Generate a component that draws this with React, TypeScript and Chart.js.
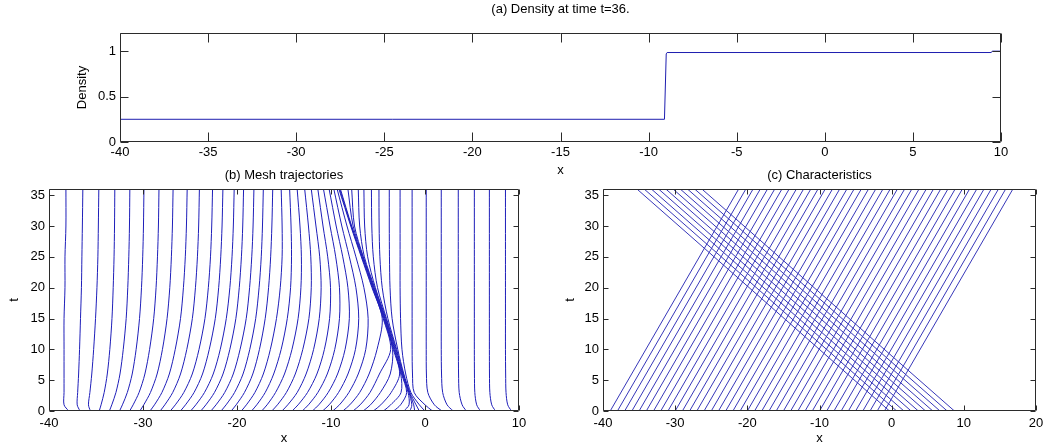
import React, { useEffect, useRef } from 'react';
import { Chart, registerables } from 'chart.js';
Chart.register(...registerables);

const FONT = '"Liberation Sans", Arial, Helvetica, sans-serif';
const W = 1060;
const H = 446;

// ---------- (a) density ----------
const densityX = [-40, -9.1, -9.0, -8.95, 9.45, 9.5, 10];
const densityY = [0.25, 0.25, 0.97, 0.985, 0.985, 1.0, 1.0];
const xTicksA = [-40, -35, -30, -25, -20, -15, -10, -5, 0, 5, 10];
const yTicksA = [0, 0.5, 1];

// ---------- (b) mesh trajectories (x of each mesh node at the times in trajT) ----------
const trajT = [0, 1, 3, 6, 10, 15, 20, 25, 30, 36];
const trajX: number[][] = [
  [-37.9, -38.4, -38.4, -38.4, -38.4, -38.4, -38.3, -38.3, -38.2, -38.2],
  [-36.7, -37.0, -36.95, -36.85, -36.75, -36.65, -36.55, -36.5, -36.45, -36.4],
  [-35.6, -35.8, -35.65, -35.45, -35.25, -35.05, -34.9, -34.8, -34.75, -34.7],
  [-34.66, -34.46, -34.13, -33.8, -33.53, -33.3, -33.17, -33.08, -33.03, -33.0],
  [-33.58, -33.32, -32.88, -32.45, -32.1, -31.79, -31.62, -31.51, -31.44, -31.4],
  [-32.5, -32.19, -31.67, -31.15, -30.73, -30.37, -30.16, -30.03, -29.95, -29.9],
  [-31.42, -31.05, -30.42, -29.8, -29.3, -28.86, -28.61, -28.46, -28.36, -28.3],
  [-30.34, -29.92, -29.21, -28.5, -27.93, -27.44, -27.15, -26.98, -26.87, -26.8],
  [-29.26, -28.78, -27.99, -27.2, -26.57, -26.01, -25.7, -25.5, -25.38, -25.3],
  [-28.18, -27.68, -26.84, -26.01, -25.34, -24.75, -24.42, -24.21, -24.08, -24.0],
  [-27.1, -26.56, -25.66, -24.76, -24.04, -23.41, -23.05, -22.82, -22.69, -22.6],
  [-26.02, -25.48, -24.57, -23.67, -22.95, -22.31, -21.95, -21.73, -21.59, -21.5],
  [-24.94, -24.38, -23.46, -22.53, -21.78, -21.14, -20.76, -20.53, -20.39, -20.3],
  [-23.86, -23.31, -22.4, -21.49, -20.76, -20.12, -19.76, -19.53, -19.39, -19.3],
  [-22.78, -22.23, -21.31, -20.4, -19.67, -19.02, -18.66, -18.43, -18.29, -18.2],
  [-21.7, -21.16, -20.26, -19.36, -18.64, -18.01, -17.65, -17.42, -17.29, -17.2],
  [-20.62, -20.09, -19.21, -18.32, -17.61, -17.0, -16.64, -16.42, -16.29, -16.2],
  [-19.54, -19.0, -18.1, -17.2, -16.45, -15.8, -15.4, -15.2, -15.2, -15.3],
  [-18.46, -17.9, -17.0, -16.1, -15.3, -14.65, -14.3, -14.2, -14.25, -14.4],
  [-17.38, -16.8, -15.9, -14.95, -14.15, -13.5, -13.2, -13.15, -13.3, -13.6],
  [-16.3, -15.7, -14.75, -13.8, -13.0, -12.35, -12.1, -12.15, -12.4, -12.8],
  [-15.22, -14.6, -13.6, -12.65, -11.85, -11.25, -11.05, -11.2, -11.6, -12.1],
  [-14.14, -13.5, -12.5, -11.5, -10.7, -10.15, -10.05, -10.35, -10.85, -11.4],
  [-13.06, -12.4, -11.4, -10.4, -9.6, -9.1, -9.1, -9.5, -10.1, -10.8],
  [-11.98, -11.3, -10.3, -9.3, -8.5, -8.05, -8.2, -8.75, -9.45, -10.2],
  [-10.9, -10.2, -9.2, -8.2, -7.4, -7.05, -7.35, -8.05, -8.85, -9.7],
  [-9.82, -9.1, -8.1, -7.1, -6.3, -6.05, -6.5, -7.35, -8.3, -9.35],
  [-8.74, -8.0, -6.95, -5.95, -5.1, -4.55, -5.64, -6.78, -7.9, -9.16],
  [-7.66, -6.9, -5.85, -4.85, -3.65, -4.45, -5.58, -6.72, -7.85, -9.08],
  [-6.58, -5.8, -4.75, -3.7, -3.45, -4.39, -5.53, -6.67, -7.8, -9.0],
  [-5.5, -4.7, -3.6, -2.7, -3.37, -4.33, -5.48, -6.6, -7.65, -8.2],
  [-4.42, -3.65, -2.55, -2.58, -3.3, -4.28, -5.42, -6.56, -7.5, -7.8],
  [-3.34, -2.6, -1.95, -2.5, -3.23, -4.23, -5.35, -6.45, -6.95, -7.1],
  [-2.26, -1.7, -1.8, -2.43, -3.16, -4.16, -5.28, -6.1, -6.42, -6.5],
  [-1.6, -1.4, -1.72, -2.37, -3.08, -4.1, -5.05, -5.5, -5.66, -5.7],
  [-1.1, -1.2, -1.66, -2.31, -3.02, -3.95, -4.55, -4.8, -4.88, -4.9],
  [-0.6, -0.95, -1.6, -2.25, -2.9, -3.5, -3.72, -3.78, -3.8, -3.8],
  [0.0, -0.6, -1.5, -2.05, -2.45, -2.6, -2.65, -2.65, -2.65, -2.65],
  [0.8, 0.0, -1.15, -1.33, -1.37, -1.37, -1.37, -1.37, -1.37, -1.37],
  [1.8, 1.0, 0.3, 0.15, 0.13, 0.13, 0.13, 0.13, 0.13, 0.13],
  [3.0, 2.35, 1.88, 1.76, 1.73, 1.73, 1.73, 1.73, 1.73, 1.73],
  [4.4, 3.95, 3.64, 3.57, 3.55, 3.54, 3.54, 3.54, 3.54, 3.54],
  [5.9, 5.5, 5.3, 5.26, 5.25, 5.25, 5.25, 5.25, 5.25, 5.25],
  [7.5, 7.1, 6.9, 6.86, 6.85, 6.85, 6.85, 6.85, 6.85, 6.85],
  [9.2, 8.8, 8.62, 8.58, 8.56, 8.56, 8.56, 8.56, 8.56, 8.56],
];
const xTicksB = [-40, -30, -20, -10, 0, 10];
const yTicksT = [0, 5, 10, 15, 20, 25, 30, 35];

// ---------- (c) characteristics ----------
const charT0 = 0;
const charT1 = 36;
const rightStart = [-39, -38, -37, -36, -35, -34, -33, -32, -31, -30, -29, -28, -27, -26, -25, -24, -23, -22, -21, -20, -19, -18, -17, -16, -15, -14, -13, -12, -11, -10, -9, -8, -7, -6, -5, -4, -3, -2, -1];
const rightEnd = [-21.2, -20.2, -19.2, -18.2, -17.2, -16.2, -15.2, -14.2, -13.2, -12.2, -11.2, -10.2, -9.2, -8.2, -7.2, -6.2, -5.2, -4.2, -3.2, -2.2, -1.2, -0.2, 0.8, 1.8, 2.8, 3.8, 4.8, 5.8, 6.8, 7.8, 8.8, 9.8, 10.8, 11.8, 12.8, 13.8, 14.8, 15.8, 16.8];
const leftStart = [-0.3, 0.7, 1.7, 2.7, 3.7, 4.7, 5.7, 6.7, 7.7, 8.7];
const leftEnd = [-35.3, -34.3, -33.3, -32.3, -31.3, -30.3, -29.3, -28.3, -27.3, -26.3];
const xTicksC = [-40, -30, -20, -10, 0, 10, 20];

const LINE_A = 'rgb(30,30,175)';
const LINE_B = 'rgb(30,30,185)';
const LINE_C = 'rgb(55,55,185)';
const AXIS = '#2b2b2b';

type Area = { left: number; right: number; top: number; bottom: number };

function boxTicksPlugin(tickLenX: number, tickLenY: number) {
  return {
    id: 'boxTicks',
    afterDraw(chart: any) {
      const { ctx, chartArea: a, scales } = chart;
      const L = Math.round(a.left) + 0.5;
      const R = Math.round(a.right) - 0.5;
      const T = Math.round(a.top) + 0.5;
      const B = Math.round(a.bottom) - 0.5;
      ctx.save();
      ctx.strokeStyle = AXIS;
      ctx.lineWidth = 1;
      ctx.beginPath();
      ctx.rect(L, T, R - L, B - T);
      for (const t of scales.x.ticks) {
        const px = Math.round(scales.x.getPixelForValue(t.value)) + 0.5;
        ctx.moveTo(px, B);
        ctx.lineTo(px, B - tickLenX);
        ctx.moveTo(px, T);
        ctx.lineTo(px, T + tickLenX);
      }
      for (const t of scales.y.ticks) {
        const py = Math.round(scales.y.getPixelForValue(t.value)) + 0.5;
        ctx.moveTo(L, py);
        ctx.lineTo(L + tickLenY, py);
        ctx.moveTo(R, py);
        ctx.lineTo(R - tickLenY, py);
      }
      ctx.stroke();
      ctx.restore();
    },
  };
}

type Spec = {
  area: Area;
  padLeft: number;
  padTop: number;
  padBottom: number;
  xMin: number; xMax: number; yMin: number; yMax: number;
  xTicks: number[]; yTicks: number[];
  title: string; titlePadTop: number;
  xTitle: string; xTitlePadBottom: number;
  yTitle: string; yTitlePadTop: number;
  xLabelPad: number; yLabelPad: number;
  tickLenX: number; tickLenY: number;
  datasets: any[];
};

const fontSize = 13;
const lh = fontSize * 1.2;

function makeConfig(s: Spec): any {
  const yWidth = s.area.left - s.padLeft;
  const xHeight = H - s.padBottom - s.area.bottom;
  const titlePadBottom = s.area.top - s.padTop - lh - s.titlePadTop;
  return {
    type: 'scatter',
    data: { datasets: s.datasets },
    options: {
      responsive: false,
      animation: false,
      devicePixelRatio: 1,
      events: [],
      layout: {
        padding: { left: s.padLeft, right: W - s.area.right, top: s.padTop, bottom: s.padBottom },
      },
      plugins: {
        legend: { display: false },
        tooltip: { enabled: false },
        title: {
          display: true,
          text: s.title,
          fullSize: false,
          color: '#000',
          font: { family: FONT, size: fontSize, weight: 'normal' },
          padding: { top: s.titlePadTop, bottom: titlePadBottom },
        },
      },
      scales: {
        x: {
          type: 'linear',
          min: s.xMin,
          max: s.xMax,
          grid: { display: false, drawTicks: false },
          border: { display: false },
          afterBuildTicks: (sc: any) => { sc.ticks = s.xTicks.map((v) => ({ value: v })); },
          afterFit: (sc: any) => { sc.height = xHeight; },
          ticks: {
            autoSkip: false, maxRotation: 0, minRotation: 0,
            padding: s.xLabelPad, color: '#000',
            font: { family: FONT, size: fontSize },
            callback: (v: any) => String(v),
          },
          title: {
            display: true, text: s.xTitle, color: '#000',
            font: { family: FONT, size: fontSize },
            padding: { top: 0, bottom: s.xTitlePadBottom },
          },
        },
        y: {
          type: 'linear',
          min: s.yMin,
          max: s.yMax,
          grid: { display: false, drawTicks: false },
          border: { display: false },
          afterBuildTicks: (sc: any) => { sc.ticks = s.yTicks.map((v) => ({ value: v })); },
          afterFit: (sc: any) => { sc.width = yWidth; },
          ticks: {
            autoSkip: false,
            padding: s.yLabelPad, color: '#000',
            font: { family: FONT, size: fontSize },
            callback: (v: any) => String(v),
          },
          title: {
            display: true, text: s.yTitle, color: '#000',
            font: { family: FONT, size: fontSize },
            padding: { top: s.yTitlePadTop, bottom: 0 },
          },
        },
      },
    },
    plugins: [boxTicksPlugin(s.tickLenX, s.tickLenY)],
  };
}

const lineStyle = (color: string, tension: number) => ({
  showLine: true,
  borderColor: color,
  borderWidth: 1,
  pointRadius: 0,
  tension,
  fill: false,
});

const configA = makeConfig({
  area: { left: 120, right: 1001, top: 33, bottom: 142 },
  padLeft: 70, padTop: 0, padBottom: 264,
  xMin: -40, xMax: 10, yMin: 0, yMax: 1.2,
  xTicks: xTicksA, yTicks: yTicksA,
  title: '(a) Density at time t=36.', titlePadTop: 1.2,
  xTitle: 'x', xTitlePadBottom: 4.2,
  yTitle: 'Density', yTitlePadTop: 4.2,
  xLabelPad: 3, yLabelPad: 4,
  tickLenX: 9, tickLenY: 8,
  datasets: [
    { data: densityX.map((x, i) => ({ x, y: densityY[i] })), ...lineStyle(LINE_A, 0) },
  ],
});

const configB = makeConfig({
  area: { left: 49, right: 519, top: 189, bottom: 411 },
  padLeft: 0, padTop: 160, padBottom: 0,
  xMin: -40, xMax: 10, yMin: 0, yMax: 36,
  xTicks: xTicksB, yTicks: yTicksT,
  title: '(b) Mesh trajectories', titlePadTop: 7.2,
  xTitle: 'x', xTitlePadBottom: 0,
  yTitle: 't', yTitlePadTop: 6.2,
  xLabelPad: 5, yLabelPad: 4,
  tickLenX: 5, tickLenY: 5,
  datasets: trajX.map((xs) => ({
    data: xs.map((x, i) => ({ x, y: trajT[i] })),
    ...lineStyle(LINE_B, 0.3),
  })),
});

const configC = makeConfig({
  area: { left: 603, right: 1036, top: 189, bottom: 411 },
  padLeft: 560, padTop: 160, padBottom: 0,
  xMin: -40, xMax: 20, yMin: 0, yMax: 36,
  xTicks: xTicksC, yTicks: yTicksT,
  title: '(c) Characteristics', titlePadTop: 7.2,
  xTitle: 'x', xTitlePadBottom: 0,
  yTitle: 't', yTitlePadTop: 2.2,
  xLabelPad: 5, yLabelPad: 4,
  tickLenX: 5, tickLenY: 5,
  datasets: [
    ...rightStart.map((x0, i) => ({
      data: [{ x: x0, y: charT0 }, { x: rightEnd[i], y: charT1 }],
      ...lineStyle(LINE_C, 0),
    })),
    ...leftStart.map((x0, i) => ({
      data: [{ x: x0, y: charT0 }, { x: leftEnd[i], y: charT1 }],
      ...lineStyle(LINE_C, 0),
    })),
  ],
});

function ChartLayer({ config }: { config: any }) {
  const ref = useRef<HTMLCanvasElement>(null);
  useEffect(() => {
    const chart = new Chart(ref.current as HTMLCanvasElement, config);
    return () => chart.destroy();
  }, [config]);
  return (
    <canvas
      ref={ref}
      width={W}
      height={H}
      style={{ position: 'absolute', left: 0, top: 0, width: W, height: H }}
    />
  );
}

export default function App() {
  return (
    <div style={{ position: 'fixed', left: 0, top: 0, width: W, height: H, background: '#fff', overflow: 'hidden' }}>
      <ChartLayer config={configA} />
      <ChartLayer config={configB} />
      <ChartLayer config={configC} />
    </div>
  );
}
